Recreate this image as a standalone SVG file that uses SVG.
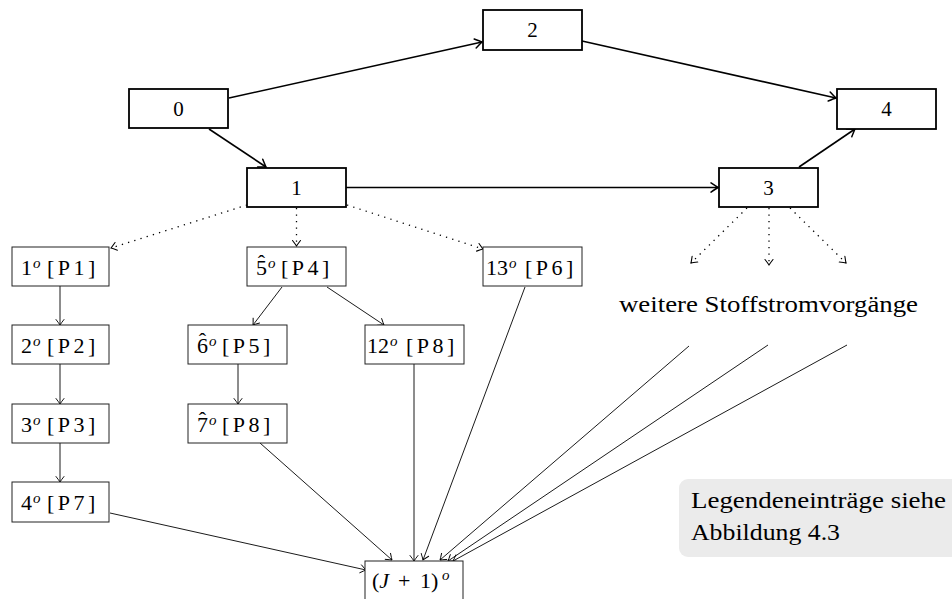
<svg xmlns="http://www.w3.org/2000/svg" width="952" height="599" viewBox="0 0 952 599">
  <defs>
    <style>
      text { font-family: "Liberation Serif", "DejaVu Serif", serif; fill: #000; }
      .big rect { fill: #fff; stroke: #000; stroke-width: 1.8; }
      .small rect { fill: #fff; stroke: #222; stroke-width: 1; }
      .lbl { font-size: 21px; text-anchor: middle; }
      .t { font-size: 22px; }
      .sup { font-size: 15px; font-style: italic; }
      .br { letter-spacing: 3.5px; }
      .thick { stroke: #000; stroke-width: 1.6; fill: none; marker-end: url(#headL); }
      .dot { stroke: #000; stroke-width: 1.3; fill: none; stroke-dasharray: 1.3 5.2; marker-end: url(#headM); }
      .thin { stroke: #000; stroke-width: 0.9; fill: none; marker-end: url(#headS); }
      .note { font-size: 24px; }
    </style>
    <marker id="headL" markerUnits="userSpaceOnUse" viewBox="-9 -6 10 12" refX="0" refY="0" markerWidth="10" markerHeight="12" orient="auto" overflow="visible">
      <path d="M-7,-4.6 Q-2,-1.2 0,0 Q-2,1.2 -7,4.6" fill="none" stroke="#000" stroke-width="1.5" stroke-linecap="round"/>
    </marker>
    <marker id="headM" markerUnits="userSpaceOnUse" viewBox="-9 -6 10 12" refX="0" refY="0" markerWidth="10" markerHeight="12" orient="auto" overflow="visible">
      <path d="M-5.5,-4 Q-1.6,-1 0,0 Q-1.6,1 -5.5,4" fill="none" stroke="#000" stroke-width="1.1" stroke-linecap="round"/>
    </marker>
    <marker id="headS" markerUnits="userSpaceOnUse" viewBox="-9 -6 10 12" refX="0" refY="0" markerWidth="10" markerHeight="12" orient="auto" overflow="visible">
      <path d="M-5.5,-4 Q-1.6,-1 0,0 Q-1.6,1 -5.5,4" fill="none" stroke="#000" stroke-width="0.9" stroke-linecap="round"/>
    </marker>
  </defs>

  <rect width="952" height="599" fill="#fff"/>

  <!-- connectors -->
  <g id="connectors">
    <line class="thick" x1="229" y1="98" x2="482" y2="42"/>
    <line class="thick" x1="209" y1="129" x2="266" y2="167"/>
    <line class="thick" x1="346" y1="187.5" x2="718" y2="187.5"/>
    <line class="thick" x1="582" y1="41" x2="836" y2="98"/>
    <line class="thick" x1="799" y1="167" x2="855" y2="129"/>

    <line class="dot" x1="247" y1="205" x2="111" y2="248"/>
    <line class="dot" x1="296.5" y1="208" x2="296.5" y2="246"/>
    <line class="dot" x1="347" y1="205" x2="483" y2="249"/>
    <line class="dot" x1="747" y1="208" x2="691" y2="263"/>
    <line class="dot" x1="769" y1="208" x2="769" y2="265"/>
    <line class="dot" x1="790" y1="208" x2="846" y2="263"/>

    <line class="thin" x1="60" y1="286" x2="60" y2="325"/>
    <line class="thin" x1="60" y1="364" x2="60" y2="404"/>
    <line class="thin" x1="60" y1="443" x2="60" y2="482"/>
    <line class="thin" x1="282" y1="287" x2="253" y2="325"/>
    <line class="thin" x1="327" y1="287" x2="384" y2="325"/>
    <line class="thin" x1="238" y1="364" x2="238" y2="404"/>
    <line class="thin" x1="110" y1="513" x2="366" y2="570"/>
    <line class="thin" x1="260" y1="443" x2="392" y2="560"/>
    <line class="thin" x1="414" y1="364" x2="414" y2="561"/>
    <line class="thin" x1="525" y1="287" x2="423" y2="560"/>
    <line class="thin" x1="689" y1="346" x2="440" y2="560"/>
    <line class="thin" x1="768" y1="345" x2="448" y2="561"/>
    <line class="thin" x1="847" y1="345" x2="453" y2="561"/>
  </g>

  <!-- upper process chain -->
  <g id="node0" class="big"><rect x="129" y="89" width="99" height="39"/><text class="lbl" x="178.5" y="116">0</text></g>
  <g id="node1" class="big"><rect x="247" y="168" width="99" height="39"/><text class="lbl" x="296.5" y="195">1</text></g>
  <g id="node2" class="big"><rect x="483" y="10" width="99" height="40"/><text class="lbl" x="532.5" y="37">2</text></g>
  <g id="node3" class="big"><rect x="719" y="168" width="99" height="39"/><text class="lbl" x="768.5" y="195">3</text></g>
  <g id="node4" class="big"><rect x="837" y="89" width="99" height="40"/><text class="lbl" x="886.5" y="116">4</text></g>

  <!-- sub-processes -->
  <g id="p1" class="small"><rect x="12" y="247" width="97" height="39"/>
    <text class="t" x="21" y="275">1<tspan class="sup" x="33" y="268">o</tspan><tspan class="br" x="47" y="275">[P1]</tspan></text></g>
  <g id="p2" class="small"><rect x="12" y="325" width="97" height="39"/>
    <text class="t" x="21" y="353">2<tspan class="sup" x="33" y="346">o</tspan><tspan class="br" x="47" y="353">[P2]</tspan></text></g>
  <g id="p3" class="small"><rect x="12" y="404" width="97" height="39"/>
    <text class="t" x="21" y="432">3<tspan class="sup" x="33" y="425">o</tspan><tspan class="br" x="47" y="432">[P3]</tspan></text></g>
  <g id="p7" class="small"><rect x="12" y="482" width="97" height="40"/>
    <text class="t" x="21" y="510">4<tspan class="sup" x="33" y="503">o</tspan><tspan class="br" x="47" y="510">[P7]</tspan></text></g>

  <!-- hatted indices: circumflex placed above the digit -->
  <g id="p4" class="small"><rect x="247" y="247" width="99" height="39"/>
    <text class="t" x="256" y="275">5<tspan x="257.8" y="270">ˆ</tspan><tspan class="sup" x="268" y="268">o</tspan><tspan class="br" x="281" y="275">[P4]</tspan></text></g>
  <g id="p5" class="small"><rect x="188" y="325" width="99" height="39"/>
    <text class="t" x="197" y="353">6<tspan x="198.8" y="348">ˆ</tspan><tspan class="sup" x="209" y="346">o</tspan><tspan class="br" x="222" y="353">[P5]</tspan></text></g>
  <g id="p8a" class="small"><rect x="188" y="404" width="99" height="39"/>
    <text class="t" x="197" y="432">7<tspan x="198.8" y="427">ˆ</tspan><tspan class="sup" x="209" y="425">o</tspan><tspan class="br" x="222" y="432">[P8]</tspan></text></g>
  <g id="p8b" class="small"><rect x="365" y="325" width="99" height="39"/>
    <text class="t" x="367" y="353">12<tspan class="sup" x="390" y="346">o</tspan><tspan class="br" x="406" y="353">[P8]</tspan></text></g>
  <g id="p6" class="small"><rect x="483" y="247" width="99" height="39"/>
    <text class="t" x="486" y="275">13<tspan class="sup" x="509" y="268">o</tspan><tspan class="br" x="525" y="275">[P6]</tspan></text></g>

  <g id="pJ" class="small"><rect x="365" y="561" width="98" height="45"/>
    <text class="t" x="372" y="588">(<tspan font-style="italic">J</tspan><tspan x="398">+</tspan><tspan x="420">1)</tspan><tspan class="sup" x="442" y="580">o</tspan></text></g>

  <!-- annotations -->
  <g id="more">
    <text class="note" x="768.5" y="312" text-anchor="middle" textLength="299" lengthAdjust="spacingAndGlyphs">weitere Stoffstromvorgänge</text>
  </g>
  <g id="legend">
    <rect x="679" y="479" width="290" height="78" rx="9" fill="#ebebeb"/>
    <text class="note" x="691" y="508" textLength="255" lengthAdjust="spacingAndGlyphs">Legendeneinträge siehe</text>
    <text class="note" x="691" y="540" textLength="149" lengthAdjust="spacingAndGlyphs">Abbildung 4.3</text>
  </g>
</svg>
